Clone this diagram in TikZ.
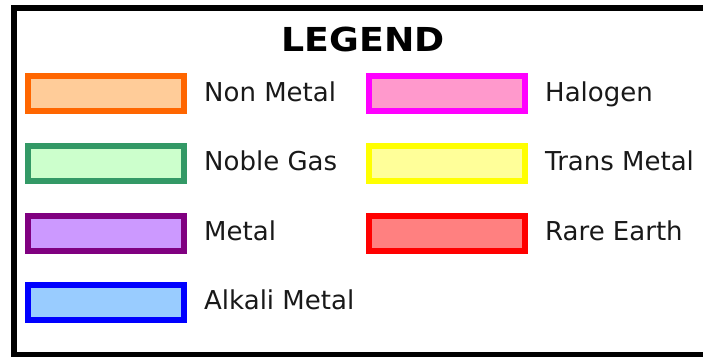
\documentclass[tikz,border=0pt]{standalone}
\usepackage{fontspec}
\setmainfont{DejaVu Sans}
\newfontfamily\titlefont[FakeStretch=1.1]{DejaVu Sans Bold}
\definecolor{nmS}{HTML}{FF6600}\definecolor{nmF}{HTML}{FFCC99}
\definecolor{ngS}{HTML}{339966}\definecolor{ngF}{HTML}{CCFFCC}
\definecolor{mS}{HTML}{800080}\definecolor{mF}{HTML}{CC99FF}
\definecolor{amS}{HTML}{0000FF}\definecolor{amF}{HTML}{99CCFF}
\definecolor{hS}{HTML}{FF00FF}\definecolor{hF}{HTML}{FF99CC}
\definecolor{tmS}{HTML}{FFFF00}\definecolor{tmF}{HTML}{FFFF99}
\definecolor{reS}{HTML}{FF0000}\definecolor{reF}{HTML}{FF8080}
\tikzset{
  swatch/.style={draw=#1S, fill=#1F, line width=6pt, minimum width=156pt, minimum height=35pt, inner sep=0pt},
  lbl/.style={anchor=base west, font=\fontsize{26}{30}\selectfont, inner sep=0pt, text=black!90},
}
\begin{document}
\begin{tikzpicture}[x=1pt,y=-1pt]
\useasboundingbox (0,0) rectangle (703,356);
\fill[white] (0,0) rectangle (703,356);
\draw[line width=6pt] (14,358) -- (14,8) -- (710,8) (14,355) -- (710,355);
\node[font=\titlefont\fontsize{33}{36}\selectfont, inner sep=0pt, anchor=base] (title) at (363,51) {LEGEND};
% left column
\node[swatch=nm] (nm) at (106,93.5) {};
\node[lbl] (nmt) at (204,101) {Non Metal};
\node[swatch=ng] (ng) at (106,163) {};
\node[lbl] (ngt) at (204,170.5) {Noble Gas};
\node[swatch=m] (m) at (106,233) {};
\node[lbl] (mt) at (204,240.5) {Metal};
\node[swatch=am] (am) at (106,302) {};
\node[lbl] (amt) at (204,309.5) {Alkali Metal};
% right column
\node[swatch=h] (h) at (446.5,93.5) {};
\node[lbl] (ht) at (545,101) {Halogen};
\node[swatch=tm] (tm) at (446.5,163) {};
\node[lbl] (tmt) at (545,170.5) {Trans Metal};
\node[swatch=re] (re) at (446.5,233) {};
\node[lbl] (ret) at (545,240.5) {Rare Earth};
\end{tikzpicture}
\end{document}
